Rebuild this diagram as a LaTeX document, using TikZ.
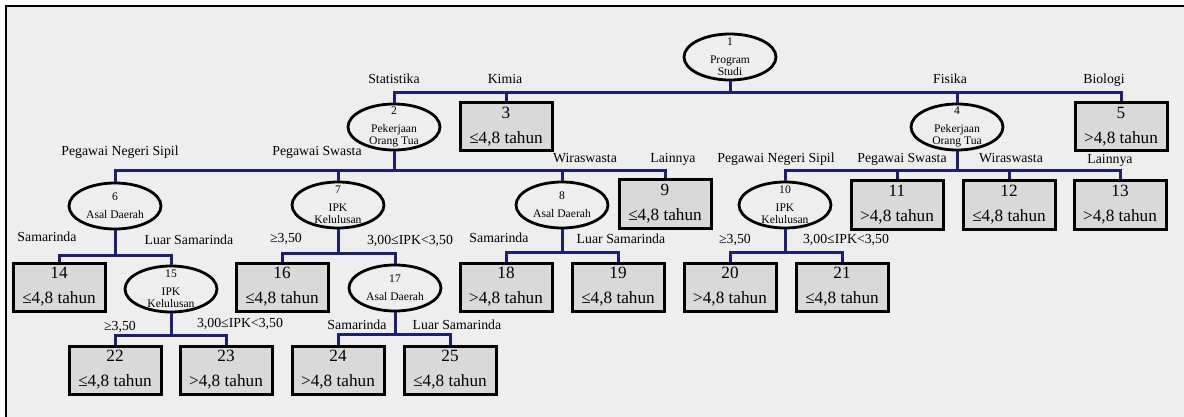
\documentclass[tikz,border=0pt]{standalone}
\usepackage{fontspec}
\setmainfont{Liberation Serif}
\usetikzlibrary{shapes.geometric}

\definecolor{pagebg}{HTML}{EEEEEE}
\definecolor{leafbg}{HTML}{D9D9D9}
\definecolor{linkblue}{RGB}{28,32,110}

\tikzset{
  splitnode/.style={ellipse,draw,line width=1.4pt,minimum width=46pt,minimum height=23pt,
    inner xsep=0pt,inner ysep=-4pt,align=center,font=\fontsize{5.8}{6}\selectfont},
  leafnode/.style={rectangle,draw,fill=leafbg,line width=1.5pt,minimum width=46pt,minimum height=24pt,
    inner sep=0pt,align=center,font=\fontsize{8.6}{12.5}\selectfont},
  link/.style={draw=linkblue,line width=1.5pt},
  lbl/.style={font=\fontsize{6.9}{8}\selectfont,text height=5pt,text depth=1.5pt,inner sep=0pt}
}

\begin{document}
\begin{tikzpicture}[x=0.5pt,y=-0.5pt]

   \useasboundingbox (0,0) rectangle (1184,417);
   \fill[pagebg] (6,6) rectangle (1184,417);
   \draw[line width=1pt] (6,417) -- (6,6) -- (1184,6);

   % splits
   \node[splitnode] (n1)  at (730,57)  {1\\[3pt]Program\\Studi};
   \node[splitnode] (n2)  at (394,127) {2\\[3pt]Pekerjaan\\Orang Tua};
   \node[splitnode] (n4)  at (957,127) {4\\[3pt]Pekerjaan\\Orang Tua};
   \node[splitnode] (n6)  at (115,206) {6\\[3pt]Asal Daerah};
   \node[splitnode] (n7)  at (338,205) {7\\[3pt]IPK\\Kelulusan};
   \node[splitnode] (n8)  at (562,205) {8\\[3pt]Asal Daerah};
   \node[splitnode] (n10) at (785,205) {10\\[3pt]IPK\\Kelulusan};
   \node[splitnode] (n15) at (171,289) {15\\[3pt]IPK\\Kelulusan};
   \node[splitnode] (n17) at (395,288) {17\\[3pt]Asal Daerah};

   % leaves
   \node[leafnode] (n3)  at (506,127)  {3\\≤4,8 tahun};
   \node[leafnode] (n5)  at (1121,127) {5\\>4,8 tahun};
   \node[leafnode] (n9)  at (665,204)  {9\\≤4,8 tahun};
   \node[leafnode] (n11) at (897,205)  {11\\>4,8 tahun};
   \node[leafnode] (n12) at (1009,205) {12\\≤4,8 tahun};
   \node[leafnode] (n13) at (1120,205) {13\\>4,8 tahun};
   \node[leafnode] (n14) at (59,287)   {14\\≤4,8 tahun};
   \node[leafnode] (n16) at (282,287)  {16\\≤4,8 tahun};
   \node[leafnode] (n18) at (506,287)  {18\\>4,8 tahun};
   \node[leafnode] (n19) at (618,287)  {19\\≤4,8 tahun};
   \node[leafnode] (n20) at (730,287)  {20\\>4,8 tahun};
   \node[leafnode] (n21) at (842,287)  {21\\≤4,8 tahun};
   \node[leafnode] (n22) at (115,370)  {22\\≤4,8 tahun};
   \node[leafnode] (n23) at (226,370)  {23\\>4,8 tahun};
   \node[leafnode] (n24) at (338,370)  {24\\>4,8 tahun};
   \node[leafnode] (n25) at (450,370)  {25\\≤4,8 tahun};

   % branches
   \draw[link] (n1.south) -- ++(0,11) -| node[lbl,yshift=6pt] {Statistika} (n2.north);
   \draw[link] (n1.south) -- ++(0,11) -| node[lbl,xshift=-0.5pt,yshift=6pt] {Kimia} (n3.north);
   \draw[link] (n1.south) -- ++(0,11) -| node[lbl,xshift=-3.5pt,yshift=6pt] {Fisika} (n4.north);
   \draw[link] (n1.south) -- ++(0,11) -| node[lbl,xshift=-8.5pt,yshift=6pt] {Biologi} (n5.north);

   \draw[link] (n2.south) -- ++(0,19) -| node[lbl,xshift=2.5pt,yshift=9pt] {Pegawai Negeri Sipil} (n6.north);
   \draw[link] (n2.south) -- ++(0,19) -| node[lbl,xshift=-10.5pt,yshift=9pt] {Pegawai Swasta} (n7.north);
   \draw[link] (n2.south) -- ++(0,19) -| node[lbl,xshift=11.5pt,yshift=5.5pt] {Wiraswasta} (n8.north);
   \draw[link] (n2.south) -- ++(0,19) -| node[lbl,xshift=4pt,yshift=5.5pt] {Lainnya} (n9.north);

   \draw[link] (n4.south) -- ++(0,19) -| node[lbl,xshift=-4.5pt,yshift=5.5pt] {Pegawai Negeri Sipil} (n10.north);
   \draw[link] (n4.south) -- ++(0,19) -| node[lbl,xshift=2.5pt,yshift=5.5pt] {Pegawai Swasta} (n11.north);
   \draw[link] (n4.south) -- ++(0,19) -| node[lbl,xshift=1pt,yshift=5.5pt] {Wiraswasta} (n12.north);
   \draw[link] (n4.south) -- ++(0,19) -| node[lbl,xshift=-5pt,yshift=5pt] {Lainnya} (n13.north);

   \draw[link] (n6.south) -- ++(0,25) -| node[lbl,xshift=-6pt,yshift=8.5pt] {Samarinda} (n14.north);
   \draw[link] (n6.south) -- ++(0,25) -| node[lbl,xshift=9pt,yshift=7pt] {Luar Samarinda} (n15.north);

   \draw[link] (n7.south) -- ++(0,24) -| node[lbl,xshift=2pt,yshift=7pt] {≥3,50} (n16.north);
   \draw[link] (n7.south) -- ++(0,24) -| node[lbl,xshift=7.5pt,yshift=6pt] {3,00≤IPK<3,50} (n17.north);

   \draw[link] (n8.south) -- ++(0,23) -| node[lbl,xshift=-3.5pt,yshift=6.5pt] {Samarinda} (n18.north);
   \draw[link] (n8.south) -- ++(0,23) -| node[lbl,xshift=1.5pt,yshift=6pt] {Luar Samarinda} (n19.north);

   \draw[link] (n10.south) -- ++(0,23) -| node[lbl,xshift=2.5pt,yshift=6pt] {≥3,50} (n20.north);
   \draw[link] (n10.south) -- ++(0,23) -| node[lbl,xshift=2pt,yshift=6pt] {3,00≤IPK<3,50} (n21.north);

   \draw[link] (n15.south) -- ++(0,22) -| node[lbl,xshift=2.5pt,yshift=4pt] {≥3,50} (n22.north);
   \draw[link] (n15.south) -- ++(0,22) -| node[lbl,xshift=7pt,yshift=5.5pt] {3,00≤IPK<3,50} (n23.north);

   \draw[link] (n17.south) -- ++(0,22) -| node[lbl,xshift=9.5pt,yshift=4pt] {Samarinda} (n24.north);
   \draw[link] (n17.south) -- ++(0,22) -| node[lbl,xshift=3.5pt,yshift=4pt] {Luar Samarinda} (n25.north);

\end{tikzpicture}
\end{document}
